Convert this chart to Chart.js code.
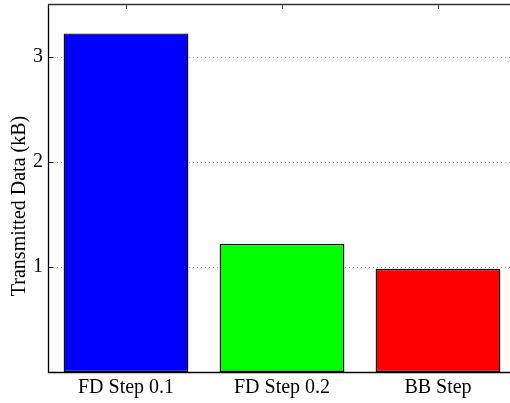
<!DOCTYPE html>
<html>
<head>
<meta charset="utf-8">
<script src="https://cdn.jsdelivr.net/npm/chart.js@4.4.1/dist/chart.umd.min.js"></script>
<style>
  html, body { margin: 0; padding: 0; background: #ffffff; overflow: hidden; }
  #wrap { width: 530px; height: 403px; }
</style>
</head>
<body>
<div id="wrap"><canvas id="c" width="530" height="403"></canvas></div>
<script>
// Transmitted data per step method
const categories = ['FD Step 0.1', 'FD Step 0.2', 'BB Step'];
const transmittedKB = [3.22, 1.22, 0.98];
const barColors = ['#0000ff', '#00ff00', '#ff0000'];
const yTickValues = [1, 2, 3];
const yAxisTitle = 'Transmitted Data (kB)';

const FONT = "'Liberation Serif', 'Times New Roman', serif";

// Box outline, inward ticks and dotted grid lines in the style of a classic plot frame
const framePlugin = {
  id: 'frame',
  beforeDatasetsDraw(chart) {
    const { ctx, chartArea: a, scales: { y } } = chart;
    ctx.save();
    ctx.strokeStyle = '#999999';
    ctx.lineWidth = 1;
    ctx.setLineDash([1, 3]);
    yTickValues.forEach(v => {
      const py = Math.round(y.getPixelForValue(v)) + 0.5;
      ctx.beginPath();
      ctx.moveTo(a.left + 5, py);
      ctx.lineTo(a.right, py);
      ctx.stroke();
    });
    ctx.restore();
  },
  afterDatasetsDraw(chart) {
    const { ctx, chartArea: a, scales: { x, y } } = chart;
    ctx.save();
    ctx.strokeStyle = '#000000';
    ctx.lineWidth = 1;
    ctx.setLineDash([]);
    // y ticks pointing inward from the left and right edges
    yTickValues.forEach(v => {
      const py = Math.round(y.getPixelForValue(v)) + 0.5;
      ctx.beginPath();
      ctx.moveTo(a.left, py); ctx.lineTo(a.left + 5, py);
      ctx.moveTo(a.right, py); ctx.lineTo(a.right - 5, py);
      ctx.stroke();
    });
    // x ticks pointing down from the top edge
    ctx.strokeStyle = '#444444';
    categories.forEach((c, i) => {
      const px = Math.round(x.getPixelForValue(i)) + 0.5;
      ctx.beginPath();
      ctx.moveTo(px, a.top); ctx.lineTo(px, a.top + 5);
      ctx.stroke();
    });
    // frame
    ctx.strokeStyle = '#000000';
    ctx.lineWidth = 1.3;
    ctx.beginPath();
    ctx.moveTo(Math.round(a.left) + 0.5, Math.round(a.top) + 0.5);
    ctx.lineTo(Math.round(a.left) + 0.5, Math.round(a.bottom) + 0.5);
    ctx.lineTo(Math.round(a.right) + 0.5, Math.round(a.bottom) + 0.5);
    ctx.stroke();
    ctx.strokeStyle = '#333333';
    ctx.lineWidth = 1.5;
    ctx.beginPath();
    ctx.moveTo(Math.round(a.left), Math.round(a.top) + 0.5);
    ctx.lineTo(Math.round(a.right) + 1, Math.round(a.top) + 0.5);
    ctx.stroke();
    // y axis title
    ctx.fillStyle = '#000000';
    ctx.font = '20px ' + FONT;
    ctx.textAlign = 'center';
    ctx.textBaseline = 'middle';
    ctx.translate(20, 206);
    ctx.rotate(-Math.PI / 2);
    ctx.fillText(yAxisTitle, 0, 0);
    ctx.restore();
  }
};

new Chart(document.getElementById('c'), {
  type: 'bar',
  data: {
    labels: categories,
    datasets: [{
      data: transmittedKB,
      backgroundColor: barColors,
      borderColor: '#000000',
      borderWidth: 1.4,
      borderSkipped: false,
      barPercentage: 0.8,
      categoryPercentage: 1.0
    }]
  },
  options: {
    responsive: false,
    animation: false,
    devicePixelRatio: 1,
    layout: { padding: { left: 0, top: 4, right: 14, bottom: 0 } },
    plugins: { legend: { display: false }, tooltip: { enabled: false } },
    scales: {
      x: {
        offset: true,
        grid: { display: false, drawTicks: false },
        border: { display: false },
        ticks: { color: '#000000', font: { family: FONT, size: 20 }, padding: 4, maxRotation: 0 },
        afterFit(scale) {
          scale.height = 31;
          scale.paddingLeft = 0;
          scale.paddingRight = 0;
        }
      },
      y: {
        min: 0,
        max: 3.5,
        afterBuildTicks(scale) { scale.ticks = yTickValues.map(v => ({ value: v })); },
        grid: { display: false, drawTicks: false },
        border: { display: false },
        ticks: { color: '#000000', font: { family: FONT, size: 20 }, padding: 5 },
        afterFit(scale) {
          scale.width = 48;
          scale.paddingTop = 0;
          scale.paddingBottom = 0;
        }
      }
    }
  },
  plugins: [framePlugin]
});
</script>
</body>
</html>
